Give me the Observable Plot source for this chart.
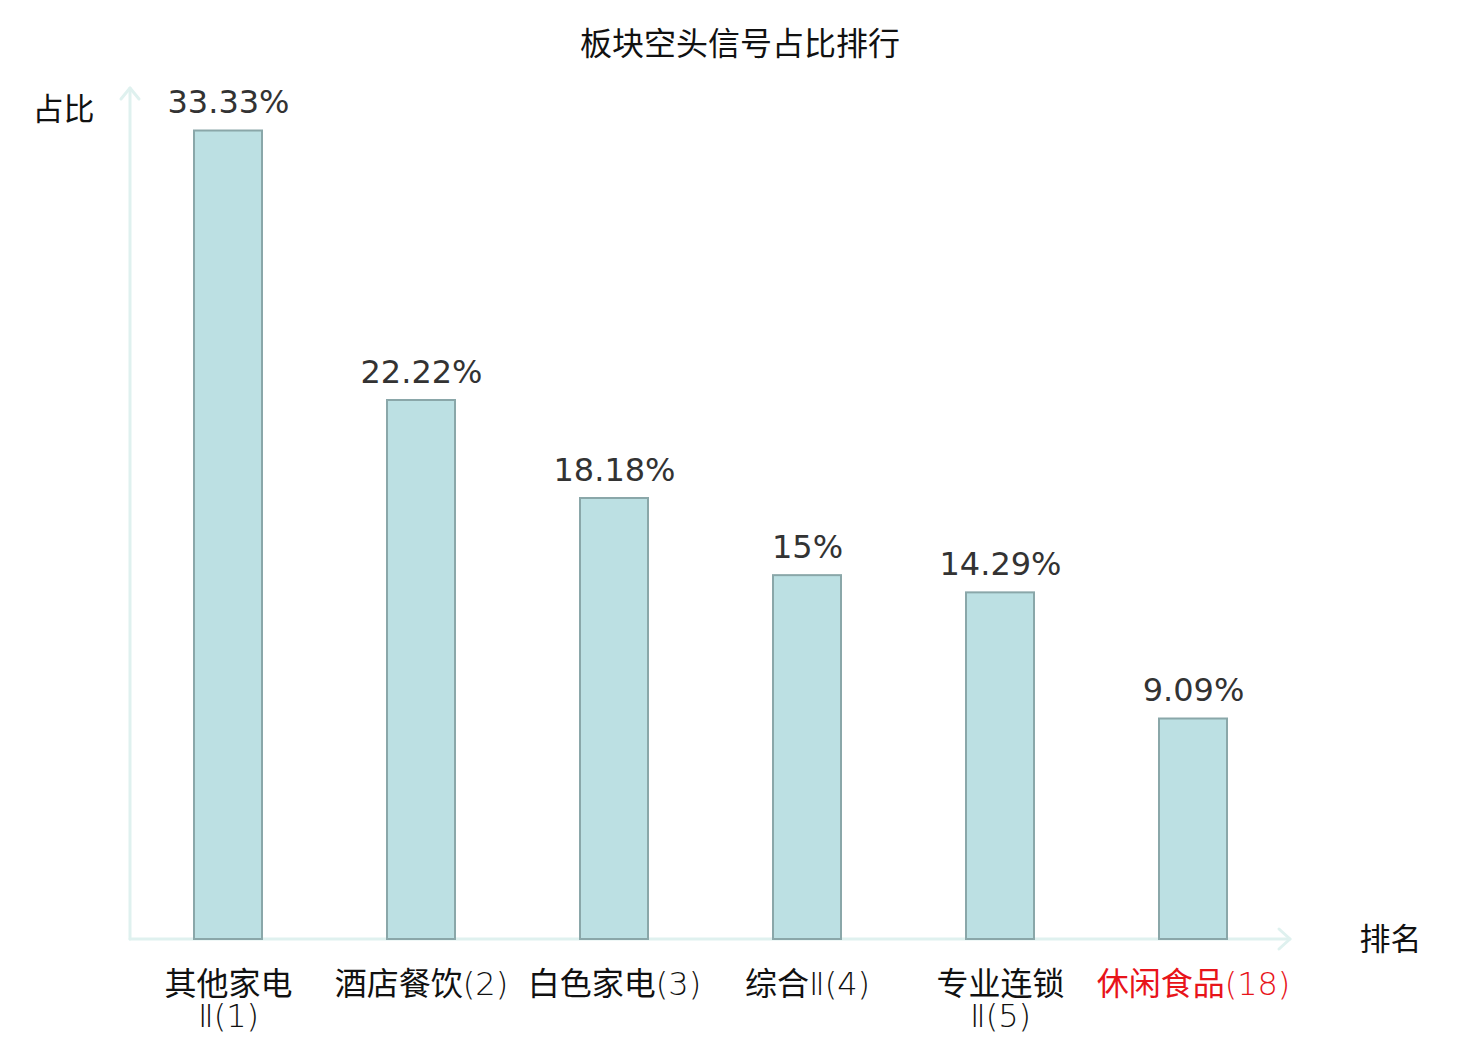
<!DOCTYPE html>
<html><head><meta charset="utf-8">
<script src="https://cdn.jsdelivr.net/npm/d3@7"></script>
<script src="https://cdn.jsdelivr.net/npm/@observablehq/plot@0.6"></script>
<style>
body{margin:0;background:#fff;}
#wrap{position:relative;width:1480px;height:1040px;overflow:hidden;}
#title{position:absolute;top:25px;left:0;width:1480px;text-align:center;font:32px/32px "Noto Sans CJK SC";color:#111;}
#chart{position:absolute;top:70px;left:0;}
.latin{font-family:"DejaVu Sans ExtraLight","DejaVu Sans";font-weight:200;}
</style></head><body>
<div id="wrap"><div id="title">板块空头信号占比排行</div><div id="chart"></div></div>
<script>
const categories = ["其他家电Ⅱ(1)", "酒店餐饮(2)", "白色家电(3)", "综合Ⅱ(4)", "专业连锁Ⅱ(5)", "休闲食品(18)"];
const tickLabels = ["其他家电\nⅡ(1)", "酒店餐饮(2)", "白色家电(3)", "综合Ⅱ(4)", "专业连锁\nⅡ(5)", "休闲食品(18)"];
const values = [33.33, 22.22, 18.18, 15, 14.29, 9.09];
const highlighted = ["休闲食品(18)"];
const yTitle = "占比";
const xTitle = "排名";

const data = categories.map((c, i) => ({
  category: c,
  value: values[i],
  tick: tickLabels[i],
  color: highlighted.includes(c) ? "#e8141a" : "#111111"
}));

const axisColor = "#dff1ef";

function axesMark(index, scales, vals, dim) {
  const {marginLeft: l, marginRight: r, marginTop: t, marginBottom: b, width: w, height: h} = dim;
  const g = d3.create("svg:g")
    .attr("fill", "none")
    .attr("stroke", axisColor)
    .attr("stroke-width", 3)
    .attr("stroke-linecap", "round")
    .attr("stroke-linejoin", "round");
  const x0 = l, y0 = h - b, xe = w - r, ye = t - 2;
  g.append("path").attr("d", `M${x0},${y0}V${ye}`);
  g.append("path").attr("d", `M${x0 - 9},${ye + 11}L${x0},${ye}L${x0 + 9},${ye + 11}`);
  g.append("path").attr("d", `M${x0},${y0}H${xe}`);
  g.append("path").attr("d", `M${xe - 11},${y0 - 10}L${xe},${y0}L${xe - 11},${y0 + 10}`);
  return g.node();
}

const chart = Plot.plot({
  width: 1480,
  height: 970,
  marginTop: 20,
  marginBottom: 101,
  marginLeft: 130,
  marginRight: 190,
  style: {fontFamily: "'Noto Sans CJK SC', sans-serif", background: "transparent"},
  x: {domain: categories, paddingInner: 0.65, paddingOuter: 0.325, axis: null},
  y: {domain: [0, 35], axis: null},
  color: {type: "identity"},
  marks: [
    axesMark,
    Plot.barY(data, {x: "category", y: "value", fill: "#bce0e3", stroke: "#8aa7a9", strokeWidth: 2}),
    Plot.text(data, {x: "category", y: "value", text: d => d.value + "%", lineAnchor: "bottom", dy: -18,
      fontSize: 32, fontFamily: "DejaVu Sans", fill: "#333333"}),
    Plot.text(data, {x: "category", y: 0, text: "tick", lineAnchor: "top", dy: 33, fontSize: 32,
      lineHeight: 1.0, fill: "color", fontFamily: "'Noto Sans CJK SC', sans-serif"}),
    Plot.text([yTitle], {frameAnchor: "top-left", text: d => d, dx: -67, dy: 20, textAnchor: "middle",
      lineAnchor: "middle", fontSize: 31, fill: "#111111"}),
    Plot.text([xTitle], {frameAnchor: "bottom-right", text: d => d, dx: 100, dy: 1, textAnchor: "middle",
      lineAnchor: "middle", fontSize: 31, fill: "#111111"})
  ]
});

// Latin parts of the tick labels use a light DejaVu face, CJK stays regular
const SVGNS = "http://www.w3.org/2000/svg";
function splitRuns(el) {
  const s = el.textContent;
  while (el.firstChild) el.removeChild(el.firstChild);
  const re = /([\u4e00-\u9fff]+)|([^\u4e00-\u9fff]+)/g;
  let m;
  while ((m = re.exec(s))) {
    const t = document.createElementNS(SVGNS, "tspan");
    t.textContent = m[0];
    if (m[2]) t.setAttribute("class", "latin");
    el.appendChild(t);
  }
}
const tickSet = new Set(tickLabels.map(s => s.replace(/\n/g, "")));
chart.querySelectorAll("text").forEach(txt => {
  if (!tickSet.has(txt.textContent)) return;
  const lines = Array.from(txt.children).filter(c => c.tagName.toLowerCase() === "tspan");
  if (lines.length) lines.forEach(splitRuns); else splitRuns(txt);
});

document.getElementById("chart").appendChild(chart);
</script>
</body></html>
